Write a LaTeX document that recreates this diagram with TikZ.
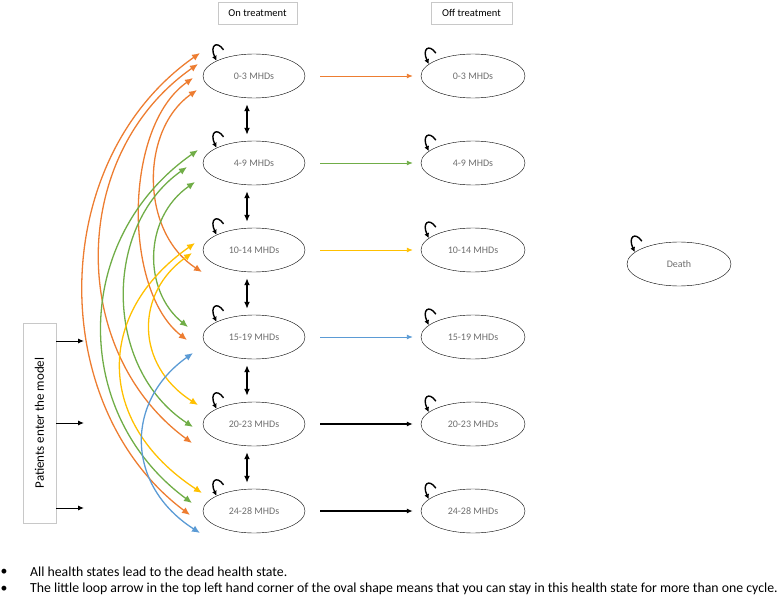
\documentclass[tikz,border=0pt]{standalone}
\usepackage{fontspec}
\setmainfont{Carlito}
\usetikzlibrary{calc,arrows.meta,shapes.geometric}
\definecolor{mhdorange}{RGB}{237,125,49}
\definecolor{mhdgreen}{RGB}{112,173,71}
\definecolor{mhdyellow}{RGB}{255,192,0}
\definecolor{mhdblue}{RGB}{91,155,213}
\definecolor{labelgray}{RGB}{110,110,110}
\definecolor{boxgray}{RGB}{200,200,200}
\newcommand{\selfloop}[2]{\draw[loopline] ([shift={(7,-11)}]#1.#2) .. controls ([shift={(0,-21)}]#1.#2) and ([shift={(-7,-15)}]#1.#2) .. (#1.#2);}
\tikzset{
  state/.style={draw, ellipse, minimum width=102pt, minimum height=44pt, inner sep=0pt,
    font=\fontsize{10}{12}\selectfont, text=labelgray},
  header/.style={draw=boxgray, minimum height=22pt, inner sep=0pt, font=\fontsize{10.5}{12}\selectfont},
  curve/.style={line width=1.3pt, {Latex[length=8pt,width=7pt]}-{Latex[length=8pt,width=7pt]}},
  flow/.style={line width=0.9pt, -{Latex[length=6pt,width=5pt]}, shorten <=15pt, shorten >=8pt},
  updown/.style={line width=1.4pt, {Latex[length=7pt,width=6pt]}-{Latex[length=7pt,width=6pt]},
    shorten <=6pt, shorten >=6pt},
  entry/.style={line width=1pt, -{Latex[length=6pt,width=5pt]}},
  loopline/.style={line width=1.4pt, -{Latex[length=5pt,width=5pt]}},
  note/.style={anchor=west, inner sep=0pt, font=\fontsize{13.8}{16}\selectfont}
}

\begin{document}
\begin{tikzpicture}[x=1pt,y=-1pt]
\useasboundingbox (0,0) rectangle (778,596);

\node (onhead) at (257.5,13) [header, minimum width=79pt] {On treatment};
\node (offhead) at (471.5,13) [header, minimum width=81pt] {Off treatment};

% on treatment
\node (on1) at (254,76) [state] {0-3 MHDs};
\node (on2) at (254,163) [state] {4-9 MHDs};
\node (on3) at (254,250) [state] {10-14 MHDs};
\node (on4) at (254,337) [state] {15-19 MHDs};
\node (on5) at (254,424) [state] {20-23 MHDs};
\node (on6) at (254,511) [state] {24-28 MHDs};

% off treatment
\node (off1) at (473,76) [state, minimum width=104pt] {0-3 MHDs};
\node (off2) at (473,163) [state, minimum width=104pt] {4-9 MHDs};
\node (off3) at (473,250) [state, minimum width=104pt] {10-14 MHDs};
\node (off4) at (473,337) [state, minimum width=104pt] {15-19 MHDs};
\node (off5) at (473,424) [state, minimum width=104pt] {20-23 MHDs};
\node (off6) at (473,511) [state, minimum width=104pt] {24-28 MHDs};

\node (death) at (679,264) [state, minimum width=104pt] {Death};

\node (pat) at (39.5,423) [draw=boxgray, rotate=90, minimum width=200pt, minimum height=33pt,
  inner sep=0pt, font=\fontsize{13}{15}\selectfont] {Patients enter the model};
\coordinate (e1) at (84,341);
\coordinate (e2) at (84,423);
\coordinate (e3) at (84,508);

\draw[entry] (pat.south |- e1) -- (e1);
\draw[entry] (pat.south |- e2) -- (e2);
\draw[entry] (pat.south |- e3) -- (e3);

\selfloop{on1}{158}
\selfloop{on2}{158}
\selfloop{on3}{158}
\selfloop{on4}{158}
\selfloop{on5}{158}
\selfloop{on6}{158}
\selfloop{off1}{165}
\selfloop{off2}{165}
\selfloop{off3}{165}
\selfloop{off4}{165}
\selfloop{off5}{165}
\selfloop{off6}{165}
\selfloop{death}{165}

\draw[updown] ([xshift=-7pt]on1.south) -- ([xshift=-7pt]on2.north);
\draw[updown] ([xshift=-7pt]on2.south) -- ([xshift=-7pt]on3.north);
\draw[updown] ([xshift=-7pt]on3.south) -- ([xshift=-7pt]on4.north);
\draw[updown] ([xshift=-7pt]on4.south) -- ([xshift=-7pt]on5.north);
\draw[updown] ([xshift=-7pt]on5.south) -- ([xshift=-7pt]on6.north);

\draw[flow, mhdorange] (on1) -- (off1);
\draw[flow, mhdgreen] (on2) -- (off2);
\draw[flow, mhdyellow] (on3) -- (off3);
\draw[flow, mhdblue] (on4) -- (off4);
\draw[flow, line width=1.2pt] (on5) -- (off5);
\draw[flow, line width=1.2pt] (on6) -- (off6);

% curved transitions between on-treatment states
\draw[curve, mhdorange] ($(on1)+(-54,-23)$) .. controls (46,161) and (46,407) .. ($(on6)+(-64,4)$);
\draw[curve, mhdorange] ($(on1)+(-56,-12)$) .. controls (68,155) and (68,352) .. ($(on5)+(-62,19)$);
\draw[curve, mhdorange] ($(on1)+(-61,2)$) .. controls (123,127) and (123,291) .. ($(on4)+(-67,3)$);
\draw[curve, mhdorange] ($(on1)+(-57,14)$) .. controls (140,130) and (140,232) .. ($(on3)+(-52,22)$);
\draw[curve, mhdgreen] ($(on2)+(-56,-13)$) .. controls (71,239) and (71,414) .. ($(on6)+(-62,-8)$);
\draw[curve, mhdgreen] ($(on2)+(-67,4)$) .. controls (103,226) and (103,368) .. ($(on5)+(-61,3)$);
\draw[curve, mhdgreen] ($(on2)+(-59,19)$) .. controls (143,218) and (143,291) .. ($(on4)+(-66,-10)$);
\draw[curve, mhdyellow] ($(on3)+(-59,-7)$) .. controls (95,313) and (95,423) .. ($(on6)+(-52,-18)$);
\draw[curve, mhdyellow] ($(on3)+(-62,3)$) .. controls (135,293) and (135,365) .. ($(on5)+(-56,-19)$);
\draw[curve, mhdblue] ($(on4)+(-61,16)$) .. controls (125,401) and (125,485) .. ($(on6)+(-54,22)$);

\node (dot1) at (4,572) [inner sep=0pt, font=\fontsize{13.8}{16}\selectfont] {\textbullet};
\node (dot2) at (4,589) [inner sep=0pt, font=\fontsize{13.8}{16}\selectfont] {\textbullet};
\node (note1) at (30,572) [note] {All health states lead to the dead health state.};
\node (note2) at (30,589) [note] {The little loop arrow in the top left hand corner of the oval shape means that you can stay in this health state for more than one cycle.};
\end{tikzpicture}
\end{document}
